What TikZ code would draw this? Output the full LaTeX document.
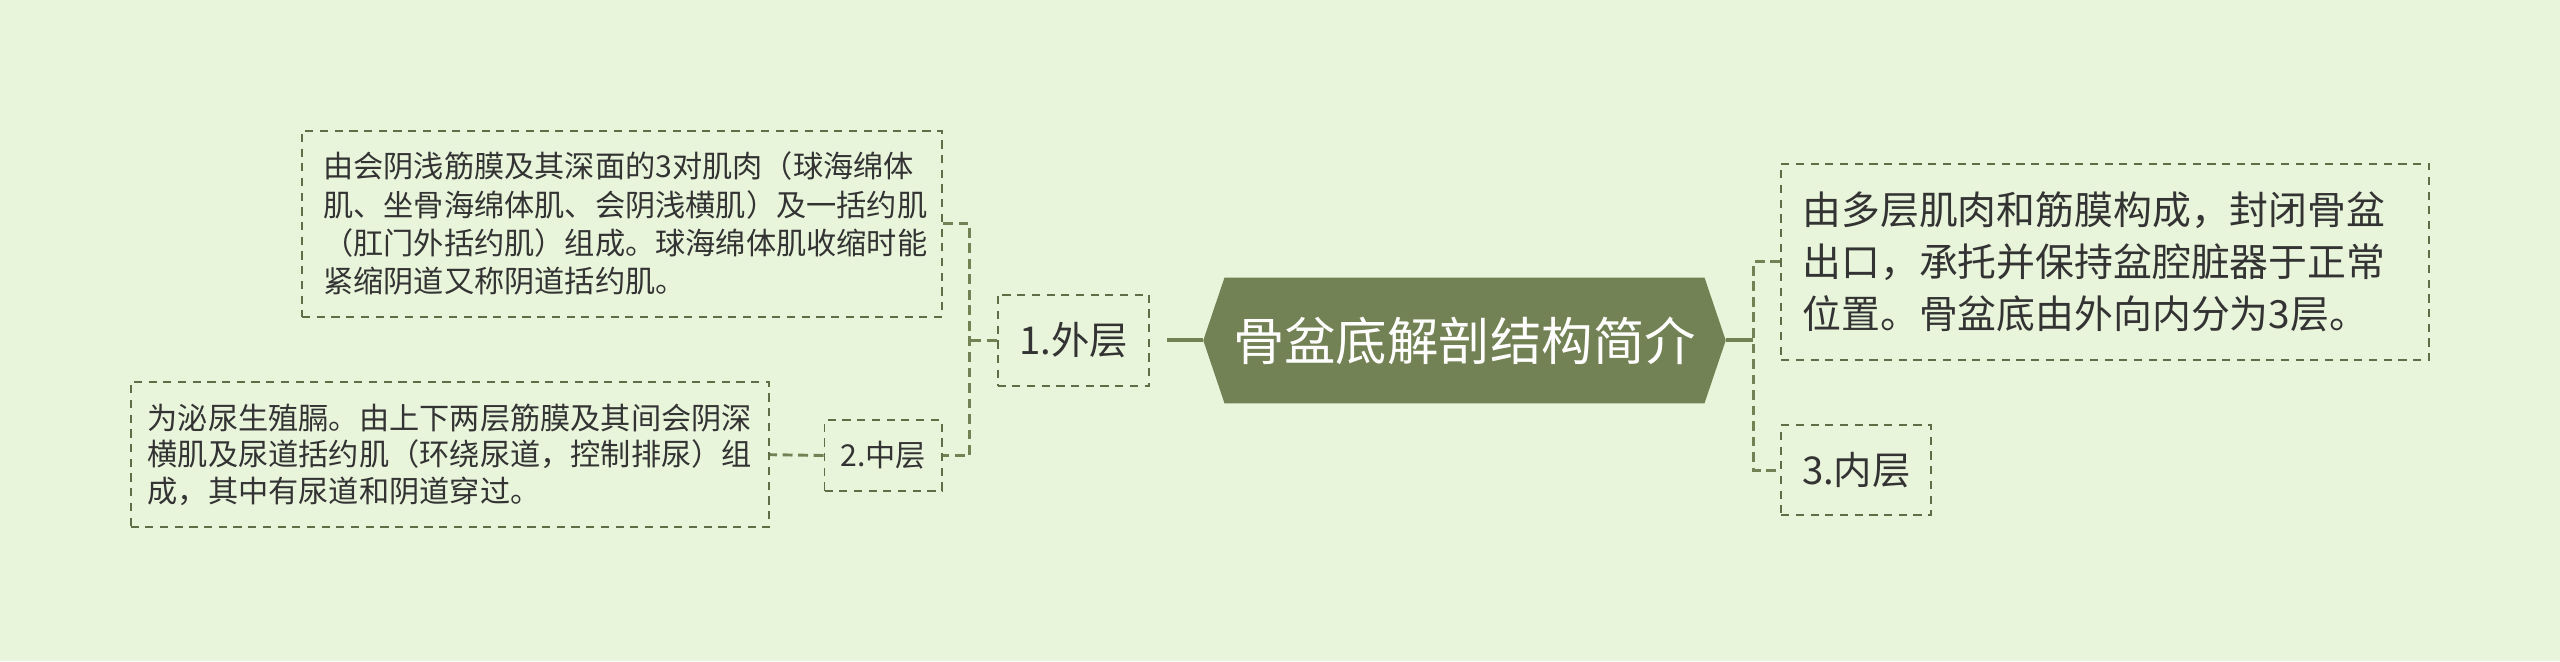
\documentclass[tikz,border=0pt]{standalone}
\usepackage{fontspec}
\setmainfont{Noto Sans CJK SC}
\usepackage{tikz}
\definecolor{bgcol}{HTML}{E8F5DB}
\definecolor{rootcol}{HTML}{738254}
\definecolor{boxcol}{HTML}{5F6E46}
\definecolor{txtcol}{HTML}{333333}
\newcommand{\hexshape}[4]{\fill[rootcol] ( #1 , #2 * 0.5 + #4 * 0.5 ) -- ( #1 + 13 , #2 ) -- ( #3 - 13 , #2 ) -- ( #3 , #2 * 0.5 + #4 * 0.5 ) -- ( #3 - 13 , #4 ) -- ( #1 + 13 , #4 ) -- cycle;}
\tikzset{
  rootbox/.style={draw=none, minimum width=320pt, minimum height=77pt, inner sep=0pt, text=white, font=\fontsize{31.5}{36}\selectfont},
  topicbox/.style={draw=boxcol, line width=1.2pt, dash pattern=on 5pt off 4pt, inner sep=0pt, text=txtcol},
  bigtopic/.style={topicbox, font=\fontsize{23.5}{28}\selectfont},
  smalltopic/.style={topicbox, font=\fontsize{18.5}{22}\selectfont},
  notebox/.style={topicbox, align=left, inner ysep=0pt},
  rootlink/.style={draw=rootcol, line width=2.5pt},
  dashlink/.style={draw=rootcol, line width=1.8pt, dash pattern=on 6pt off 3.5pt},
}
\begin{document}
\begin{tikzpicture}[x=1pt, y=-1pt]
        % canvas
        \fill[bgcol] (0,0) rectangle (1568,405);
        \useasboundingbox (0,0) rectangle (1568,405);

        % root
        \hexshape{737}{170}{1057}{247}
        \node[rootbox] (root) at (897,208.5) {骨盆底解剖结构简介};

        % layers
        \node[bigtopic, minimum width=93pt, minimum height=56pt] (outer) at (657.5,208.5) {1.外层};
        \node[smalltopic, minimum width=72pt, minimum height=43pt] (middle) at (541,279) {2.中层};
        \node[bigtopic, minimum width=92pt, minimum height=55pt] (inner) at (1137,288) {3.内层};

        % notes
        \node[notebox, text width=366pt, inner xsep=13pt, minimum height=114pt, font=\fontsize{18.5}{23.5}\selectfont] (outernote) at (381,137) {由会阴浅筋膜及其深面的3对肌肉（球海绵体\\肌、坐骨海绵体肌、会阴浅横肌）及一括约肌\\（肛门外括约肌）组成。球海绵体肌收缩时能\\紧缩阴道又称阴道括约肌。};
        \node[notebox, text width=370pt, inner xsep=10.5pt, minimum height=89pt, font=\fontsize{18.5}{22.5}\selectfont] (middlenote) at (275.5,278.5) {为泌尿生殖膈。由上下两层筋膜及其间会阴深\\横肌及尿道括约肌（环绕尿道，控制排尿）组\\成，其中有尿道和阴道穿过。};
        \node[notebox, text width=371pt, inner xsep=13pt, minimum height=120pt, font=\fontsize{23.8}{32}\selectfont] (rootnote) at (1289.5,160.3) {由多层肌肉和筋膜构成，封闭骨盆\\出口，承托并保持盆腔脏器于正常\\位置。骨盆底由外向内分为3层。};

        % left links
        \coordinate (lj) at (594,208.5);
        \draw[rootlink, shorten >=10pt] (root.west) -- (outer.east);
        \draw[dashlink] (outer.west) -- (lj);
        \draw[dashlink] (outernote.east) -| (lj) |- (middle.east);
        \draw[dashlink] (middle.west) -- (middlenote.east);

        % right links
        \coordinate (rj) at (1074,208.5);
        \draw[rootlink] (root.east) -- (rj);
        \draw[dashlink] (rootnote.west) -| (rj) |- (inner.west);
\end{tikzpicture}
\end{document}
